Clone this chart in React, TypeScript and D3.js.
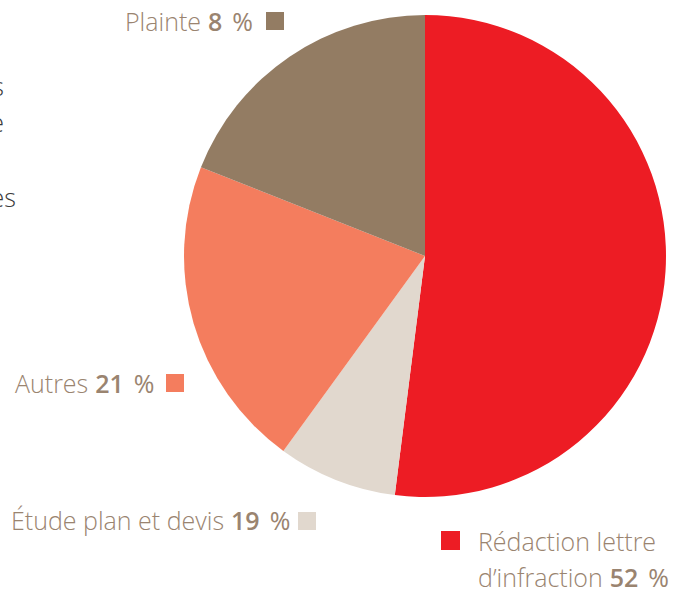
import React from "react";
import * as d3 from "d3";

const sliceValues = [52, 8, 21, 19];
const sliceColors = ["#ed1c24", "#e1d8ce", "#f47d5e", "#937c63"];

const labelNames = ["Plainte", "Autres", "Étude plan et devis"];
const labelNums = ["8", "21", "19"];
const labelColors = ["#937c63", "#f47d5e", "#e1d8ce"];
const redName1 = "Rédaction lettre";
const redName2 = "d’infraction";
const redNum = "52";

const clippedTexts = ["s", "e", "es"];

const W = 681;
const H = 591;
const cx = 425;
const cy = 256;
const R = 241;
const textColor = "#9a8470";
const font = "'Open Sans', 'Noto Sans', sans-serif";
const fs = 25;

function Label({ x, y, name, num }: { x: number; y: number; name: string; num?: string }) {
  return (
    <text x={x} y={y} fontFamily={font} fontSize={fs} fill={textColor} fontWeight={300}>
      {name}
      {num !== undefined && (
        <>
          <tspan dx={7} fontWeight={600}>{num}</tspan>
          <tspan dx={10} fontWeight={500}>%</tspan>
        </>
      )}
    </text>
  );
}

export default function App() {
  const pie = d3.pie<number>().sort(null).value((d) => d)(sliceValues);
  const arc = d3.arc<d3.PieArcDatum<number>>().innerRadius(0).outerRadius(R);

  const labelPos = [
    { x: 125, y: 31 },
    { x: 15, y: 393 },
    { x: 11, y: 530 },
  ];
  const clipPos = [
    { x: 4, y: 96 },
    { x: 4, y: 132 },
    { x: 16, y: 207 },
  ];

  return (
    <div style={{ position: "absolute", left: 0, top: 0 }}>
      <svg width={W} height={H} style={{ display: "block", background: "#fff" }}>
        <g transform={`translate(${cx},${cy})`}>
          {pie.map((p, i) => (
            <path key={i} d={arc(p) || ""} fill={sliceColors[i]} />
          ))}
        </g>
        {clippedTexts.map((t, i) => (
          <text key={i} x={clipPos[i].x} y={clipPos[i].y} textAnchor="end" fontFamily={font} fontWeight={300} fontSize={fs} fill="#3a3a3a">
            {t}
          </text>
        ))}
        {labelNames.map((n, i) => (
          <Label key={i} x={labelPos[i].x} y={labelPos[i].y} name={n} num={labelNums[i]} />
        ))}
        <rect x={266} y={12} width={18} height={18} fill={labelColors[0]} />
        <rect x={166} y={374} width={18} height={18} fill={labelColors[1]} />
        <rect x={298} y={512} width={18} height={18} fill={labelColors[2]} />
        <rect x={441} y={531} width={19} height={19} fill={sliceColors[0]} />
        <Label x={478} y={551} name={redName1} />
        <Label x={478} y={587} name={redName2} num={redNum} />
      </svg>
    </div>
  );
}
